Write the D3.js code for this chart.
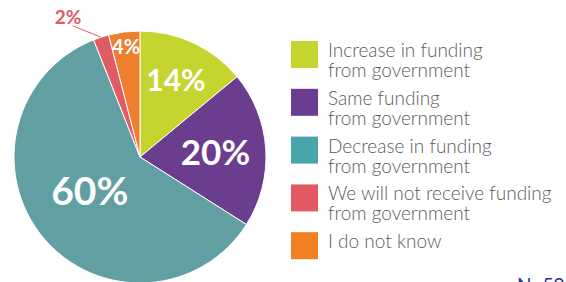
<!DOCTYPE html>
<html>
<head>
<meta charset="UTF-8">
<script src="https://d3js.org/d3.v7.min.js"></script>
<style>
  body { margin: 0; background: #fff; }
  svg { display: block; font-family: Lato, "Open Sans", sans-serif; }
  .legend text { fill: #5b5b5b; font-size: 19px; font-weight: 300; }
  .pct { fill: #fff; font-weight: 700; text-anchor: middle; }
</style>
</head>
<body>
<svg id="chart" width="566" height="282"></svg>
<script>
  // data
  var categories = [
    ["Increase in funding", "from government"],
    ["Same funding", "from government"],
    ["Decrease in funding", "from government"],
    ["We will not receive funding", "from government"],
    ["I do not know"]
  ];
  var values = [14, 20, 60, 2, 4];
  var pieColors = ["#c5d42e", "#6a3d8f", "#619fa3", "#e25b63", "#ed7f2f"];
  var legendColors = ["#c5d42e", "#6a3d8f", "#47a5ab", "#e25b63", "#f27f22"];
  var note = "N=59";

  // label tweaks: radius factor, font size
  var labelR = [0.67, 0.6, 0.48, 1.25, 0.88];
  var labelSize = [30, 35, 39, 19, 20];

  var svg = d3.select("#chart"),
      cx = 140, cy = 157, R = 126;

  var g = svg.append("g").attr("transform", "translate(" + cx + "," + cy + ")");

  var pie = d3.pie().sort(null).value(function (d) { return d; });
  var arcs = pie(values);
  var arc = d3.arc().innerRadius(0).outerRadius(R);

  g.selectAll("path.slice")
    .data(arcs)
    .enter().append("path")
    .attr("class", "slice")
    .attr("d", arc)
    .attr("fill", function (d, i) { return pieColors[i]; })
    .attr("stroke", "#fff")
    .attr("stroke-width", 1);

  function polar(a, r) { return [r * Math.sin(a), -r * Math.cos(a)]; }

  arcs.forEach(function (d, i) {
    var mid = (d.startAngle + d.endAngle) / 2;
    var p;
    if (i === 3) {
      // small slice: label outside with a leader line
      var a0 = polar(mid, R * 1.0), a1 = polar(mid - 0.16, R * 1.17);
      g.append("line")
        .attr("x1", a0[0]).attr("y1", a0[1])
        .attr("x2", a1[0]).attr("y2", a1[1])
        .attr("stroke", pieColors[i]).attr("stroke-width", 1);
      p = polar(mid - 0.16, R * labelR[i]);
    } else if (i === 2) {
      p = polar(mid + 0.1, R * labelR[i]);
    } else {
      p = polar(mid, R * labelR[i]);
    }
    g.append("text")
      .attr("class", "pct")
      .attr("x", p[0]).attr("y", p[1])
      .attr("dy", "0.36em")
      .style("font-size", labelSize[i] + "px")
      .style("fill", i === 3 ? pieColors[i] : "#fff")
      .text(values[i] + "%");
  });

  // legend
  var y = d3.scaleBand().domain(d3.range(categories.length)).range([41, 280]).paddingInner(0);
  var leg = svg.append("g").attr("class", "legend");
  var item = leg.selectAll("g")
    .data(categories)
    .enter().append("g")
    .attr("transform", function (d, i) { return "translate(291," + y(i) + ")"; });

  item.append("rect")
    .attr("width", 27).attr("height", 27)
    .attr("fill", function (d, i) { return legendColors[i]; });

  item.append("text")
    .attr("x", 37)
    .selectAll("tspan")
    .data(function (d) { return d; })
    .enter().append("tspan")
    .attr("x", 37)
    .attr("y", function (d, j) { return 16 + j * 20; })
    .text(function (d) { return d; });

  svg.append("text")
    .attr("x", 517).attr("y", 292)
    .style("font-size", "19px")
    .style("fill", "#1d2f9c")
    .text(note);
</script>
</body>
</html>
